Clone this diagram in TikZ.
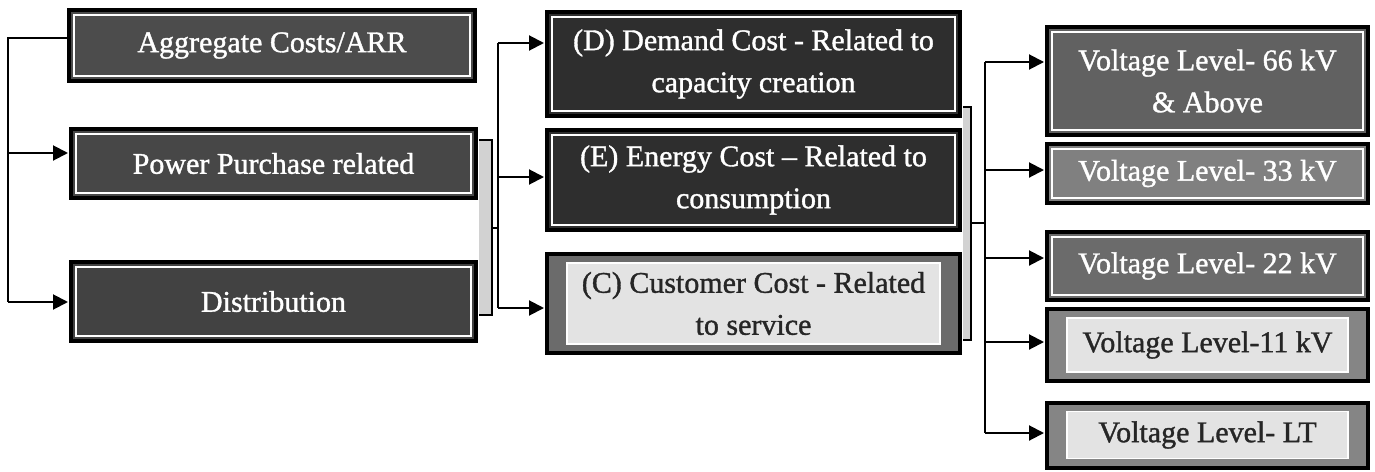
\documentclass[tikz,border=0pt]{standalone}
\usepackage{fontspec}
\setmainfont{Liberation Serif}
\newfontfamily\boxfont[FakeBold=1.2]{Liberation Serif}
\usetikzlibrary{arrows.meta}
\begin{document}
\begin{tikzpicture}[x=1pt,y=-1pt,
  box/.style={draw=black, line width=4pt, inner sep=0pt, align=center,
    font=\boxfont\fontsize{30}{42}\selectfont},
  darkbox/.style={box, fill=#1, text=white,
    path picture={\draw[white,line width=1.2pt]
      ([shift={(5pt,-5pt)}]path picture bounding box.north west) rectangle
      ([shift={(-5pt,5pt)}]path picture bounding box.south east);}},
  lightbox/.style={box, fill=#1, text=black!85,
    path picture={\fill[gray!22, draw=white, line width=1.2pt]
      ([shift={(20pt,-9pt)}]path picture bounding box.north west) rectangle
      ([shift={(-20pt,9pt)}]path picture bounding box.south east);}},
  conn/.style={draw=black, line width=2pt},
  arr/.style={conn, -{Triangle[length=15pt,width=15pt]}, shorten >=1pt},
  brk/.style={draw=black, line width=1.2pt, fill=gray!35}]
\useasboundingbox (0,0) rectangle (1375,471);

% left column
\node[darkbox=black!70, minimum width=406pt, minimum height=71pt] (agg) at (272,45.5) {Aggregate Costs/ARR};
\node[darkbox=black!72, minimum width=405pt, minimum height=69pt] (pp) at (273.5,163.5) {Power Purchase related};
\node[darkbox=black!74, minimum width=405pt, minimum height=79pt] (dist) at (273.5,301.5) {Distribution};

% middle column
\node[darkbox=black!82, minimum width=413pt, minimum height=104pt] (D) at (753.5,64) {(D) Demand Cost - Related to\\capacity creation};
\node[darkbox=black!82, minimum width=413pt, minimum height=100pt] (E) at (753.5,180) {(E) Energy Cost – Related to\\consumption};
\node[lightbox=black!58, minimum width=413pt, minimum height=99pt] (C) at (753.5,303.5) {(C) Customer Cost - Related\\to service};

% right column
\node[darkbox=black!62, minimum width=321pt, minimum height=108pt] (v66) at (1207.5,81) {Voltage Level- 66 kV\\\& Above};
\node[darkbox=black!50, minimum width=321pt, minimum height=59pt] (v33) at (1207.5,173.5) {Voltage Level- 33 kV};
\node[darkbox=black!58, minimum width=321pt, minimum height=68pt] (v22) at (1207.5,266) {Voltage Level- 22 kV};
\node[lightbox=black!48, minimum width=321pt, minimum height=72pt] (v11) at (1207.5,345) {Voltage Level-11 kV};
\node[lightbox=black!48, minimum width=321pt, minimum height=65pt] (vlt) at (1207.5,435) {Voltage Level- LT};

% left connectors
\coordinate (l0) at (8,38);
\coordinate (l1) at (8,153);
\coordinate (l2) at (8,302);
\draw[conn] (l0 -| agg.west) -- (l0) -- (l2);
\draw[arr] (l1) -- (l1 -| pp.west);
\draw[arr] (l2) -- (l2 -| dist.west);

% first bracket and bus
\coordinate (b1a) at (479,140);
\coordinate (b1b) at (479,315);
\coordinate (b1m) at (492,228);
\coordinate (m0) at (498,228);
\coordinate (m1) at (498,43);
\coordinate (m2) at (498,177);
\coordinate (m3) at (498,308);
\path[brk] (b1a) -- (b1a -| b1m) -- (b1b -| b1m) -- (b1b);
\draw[conn] (b1m) -- (m0);
\draw[conn] (m1) -- (m3);
\draw[arr] (m1) -- (m1 -| D.west);
\draw[arr] (m2) -- (m2 -| E.west);
\draw[arr] (m3) -- (m3 -| C.west);

% second bracket and bus
\coordinate (b2a) at (963,107);
\coordinate (b2b) at (963,340);
\coordinate (b2m) at (971,223);
\coordinate (r0) at (985,223);
\coordinate (r1) at (985,62);
\coordinate (r2) at (985,170);
\coordinate (r3) at (985,258);
\coordinate (r4) at (985,342);
\coordinate (r5) at (985,433);
\path[brk] (b2a) -- (b2a -| b2m) -- (b2b -| b2m) -- (b2b);
\draw[conn] (b2m) -- (r0);
\draw[conn] (r1) -- (r5);
\draw[arr] (r1) -- (r1 -| v66.west);
\draw[arr] (r2) -- (r2 -| v33.west);
\draw[arr] (r3) -- (r3 -| v22.west);
\draw[arr] (r4) -- (r4 -| v11.west);
\draw[arr] (r5) -- (r5 -| vlt.west);
\end{tikzpicture}
\end{document}
